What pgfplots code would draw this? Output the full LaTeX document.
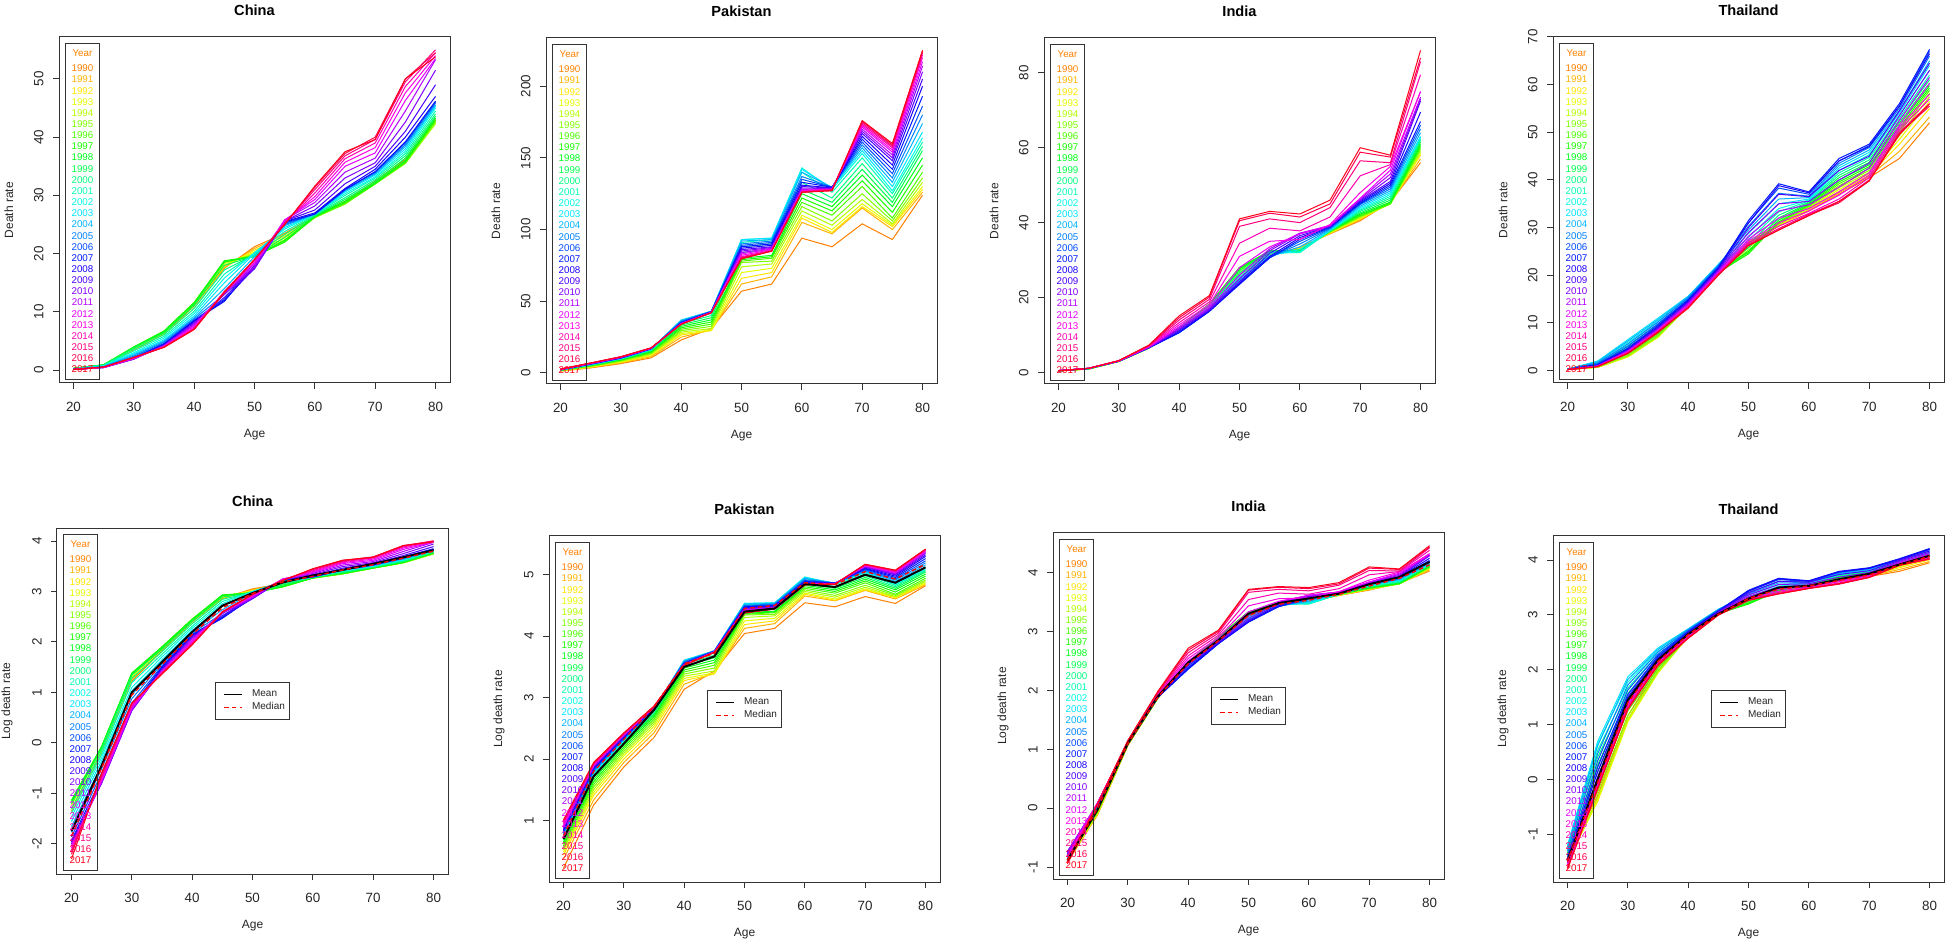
\documentclass[border=0pt]{standalone}
\usepackage{pgfplots}
\usepackage{pgfplotstable}
\pgfplotsset{compat=1.18}
\usepackage{fontspec}
\setmainfont{Liberation Sans}

\definecolor{c1990}{rgb}{1,0.5,0}
\definecolor{c1991}{rgb}{1,0.7,0}
\definecolor{c1992}{rgb}{1,0.9,0}
\definecolor{c1993}{rgb}{0.9,1,0}
\definecolor{c1994}{rgb}{0.7,1,0}
\definecolor{c1995}{rgb}{0.5,1,0}
\definecolor{c1996}{rgb}{0.3,1,0}
\definecolor{c1997}{rgb}{0.1,1,0}
\definecolor{c1998}{rgb}{0,1,0.1}
\definecolor{c1999}{rgb}{0,1,0.3}
\definecolor{c2000}{rgb}{0,1,0.5}
\definecolor{c2001}{rgb}{0,1,0.7}
\definecolor{c2002}{rgb}{0,1,0.9}
\definecolor{c2003}{rgb}{0,0.9,1}
\definecolor{c2004}{rgb}{0,0.7,1}
\definecolor{c2005}{rgb}{0,0.5,1}
\definecolor{c2006}{rgb}{0,0.3,1}
\definecolor{c2007}{rgb}{0,0.1,1}
\definecolor{c2008}{rgb}{0.1,0,1}
\definecolor{c2009}{rgb}{0.3,0,1}
\definecolor{c2010}{rgb}{0.5,0,1}
\definecolor{c2011}{rgb}{0.7,0,1}
\definecolor{c2012}{rgb}{0.9,0,1}
\definecolor{c2013}{rgb}{1,0,0.9}
\definecolor{c2014}{rgb}{1,0,0.7}
\definecolor{c2015}{rgb}{1,0,0.5}
\definecolor{c2016}{rgb}{1,0,0.3}
\definecolor{c2017}{rgb}{1,0,0.1}

% Death rate by age (rows) and year (columns)
\pgfplotstableread{
age y1990 y1991 y1992 y1993 y1994 y1995 y1996 y1997 y1998 y1999 y2000 y2001 y2002 y2003 y2004 y2005 y2006 y2007 y2008 y2009 y2010 y2011 y2012 y2013 y2014 y2015 y2016 y2017
20 0.25 0.26 0.27 0.29 0.30 0.31 0.32 0.32 0.31 0.30 0.27 0.25 0.23 0.21 0.19 0.17 0.155 0.145 0.14 0.14 0.135 0.13 0.13 0.125 0.12 0.115 0.11 0.10
25 0.80 0.82 0.85 0.88 0.90 0.92 0.93 0.93 0.92 0.90 0.85 0.80 0.75 0.70 0.65 0.60 0.55 0.50 0.46 0.45 0.45 0.46 0.47 0.48 0.50 0.52 0.54 0.55
30 3.4 3.5 3.6 3.7 3.8 3.9 3.95 4.0 3.95 3.85 3.6 3.3 3.0 2.8 2.6 2.4 2.2 2.05 1.95 1.9 1.9 1.95 2.0 2.05 2.1 2.15 2.2 2.2
35 6.2 6.3 6.4 6.5 6.6 6.7 6.7 6.7 6.6 6.4 6.1 5.8 5.5 5.2 5.0 4.8 4.6 4.5 4.4 4.3 4.2 4.2 4.1 4.05 4.0 4.0 3.95 3.9
40 11.0 11.1 11.2 11.4 11.5 11.6 11.6 11.6 11.4 11.1 10.6 10.1 9.7 9.3 9.0 8.8 8.6 8.5 8.4 8.2 8.0 7.8 7.6 7.4 7.2 7.1 7.0 7.0
45 17.5 17.6 17.8 18.0 18.3 18.5 18.7 18.8 18.6 18.0 17.2 16.5 15.8 15.0 14.0 13.0 12.2 11.8 12.0 12.5 13.0 13.2 13.3 13.4 13.5 13.5 13.4 13.3
50 21.2 20.9 20.6 20.3 20.0 19.8 19.6 19.5 19.5 19.6 19.8 20.0 20.2 20.0 19.5 19.0 18.5 18.0 17.6 17.4 17.5 17.8 18.2 18.5 18.8 19.0 19.0 19.0
55 23.5 23.3 23.0 22.7 22.4 22.2 22.0 22.0 22.3 22.8 23.3 23.8 24.2 24.5 24.8 25.0 25.2 25.4 25.5 25.6 25.6 25.8 25.8 25.5 25.3 25.2 25.0 25.0
60 26.5 26.4 26.3 26.2 26.2 26.2 26.3 26.3 26.4 26.5 26.6 26.7 26.8 26.8 26.8 26.8 26.8 26.8 27.0 27.5 28.2 28.8 29.3 29.8 30.4 31.0 31.4 31.6
65 29.0 28.9 28.8 28.7 28.6 28.5 28.6 28.8 29.0 29.3 29.6 30.0 30.3 30.6 30.8 31.0 31.0 31.0 31.2 32.0 33.0 34.0 35.0 35.7 36.3 36.8 37.2 37.5
70 32.5 32.3 32.2 32.0 32.0 32.0 32.0 32.0 32.2 32.4 32.7 33.0 33.2 33.5 33.7 33.9 34.0 34.1 34.5 35.0 35.6 36.4 37.3 38.2 39.0 39.6 40.0 39.6
75 36.2 36.0 35.8 35.6 35.5 35.5 35.6 35.8 36.0 36.4 36.8 37.2 37.6 38.0 38.4 38.7 39.0 39.2 40.0 41.0 42.6 44.5 46.3 47.6 48.7 49.5 50.0 50.0
80 43.0 43.0 42.6 42.5 42.3 42.5 42.8 43.0 43.3 43.6 44.0 44.5 45.0 45.3 45.5 45.8 46.0 46.2 47.0 49.0 51.5 53.3 53.5 54.0 54.5 55.0 54.5 53.8
}\chinatab

\pgfplotstableread{
age y1990 y1991 y1992 y1993 y1994 y1995 y1996 y1997 y1998 y1999 y2000 y2001 y2002 y2003 y2004 y2005 y2006 y2007 y2008 y2009 y2010 y2011 y2012 y2013 y2014 y2015 y2016 y2017
20 1.25 1.45 1.55 1.62 1.68 1.74 1.80 1.86 1.92 1.98 2.02 2.06 2.10 2.14 2.18 2.22 2.26 2.30 2.34 2.38 2.42 2.46 2.50 2.55 2.60 2.65 2.70 2.75
25 3.5 3.8 4.1 4.3 4.5 4.7 4.9 5.1 5.3 5.5 5.6 5.7 5.8 5.9 6.0 6.1 6.2 6.3 6.4 6.5 6.55 6.6 6.65 6.7 6.8 6.85 6.9 7.0
30 6.5 7.0 7.4 7.8 8.1 8.4 8.7 9.0 9.3 9.5 9.7 9.9 10.0 10.1 10.2 10.3 10.4 10.5 10.6 10.7 10.8 10.9 11.0 11.0 11.1 11.2 11.3 11.3
35 10.5 11.3 12.0 12.6 13.1 13.6 14.1 14.6 15.0 15.4 15.8 16.1 16.3 16.5 16.6 16.7 16.8 16.9 17.0 17.0 17.1 17.2 17.2 17.3 17.3 17.4 17.4 17.5
40 23.0 25.0 26.5 27.5 28.5 29.5 30.5 31.5 32.5 33.5 34.5 35.5 36.5 37.0 36.5 36.0 35.5 35.0 34.8 34.6 34.5 34.4 34.3 34.2 34.1 34.0 34.0 34.0
45 31.0 30.0 29.5 30.0 31.0 32.5 34.0 35.5 37.0 38.5 40.0 41.5 42.5 43.0 43.0 43.0 42.8 42.6 42.5 42.4 42.3 42.3 42.2 42.2 42.1 42.1 42.0 42.0
50 57 62 66 70 74 77 78 79 80 84 88 91 93 93 92 90 89 88 87 86 85 84 83 82 81 80.5 80 79.5
55 62 67 70 73 76 78 80 81 82 86 90 93 94 94 93 92 91 90 89 88 87.5 87 86.5 86 85.5 85 85 85
60 94 105 108 110 113 116 119 122 125 128 133 140 143 142 140 137 135 133 131 130 129 128 127.5 127 126.5 126 126 126
65 88 97 98 100 103 106 110 113 116 119 122 126 128 129 129.5 129.5 129.5 129.5 129 129 128.5 128.5 128 128 128 127.5 127.5 127
70 104 115 116 118 121 125 130 134 138 142 146 150 153 155 157 159 161 163 165 167 168.5 170 171.5 172.5 173.5 174.5 175.5 176
75 93 100 102 103 104 106 108 112 116 119 122 125 127 130 133 136 139 142 145 148 150 152 154 155.5 157 158 159 160
80 124 126 128 130 133 136 140 145 150 155 158 161 164 168 174 180 186 193 200 205 210 214 217 220 222 223.5 224.5 225
}\pakistantab

\pgfplotstableread{
age y1990 y1991 y1992 y1993 y1994 y1995 y1996 y1997 y1998 y1999 y2000 y2001 y2002 y2003 y2004 y2005 y2006 y2007 y2008 y2009 y2010 y2011 y2012 y2013 y2014 y2015 y2016 y2017
20 0.40 0.40 0.41 0.41 0.41 0.42 0.42 0.42 0.42 0.42 0.42 0.43 0.43 0.43 0.44 0.44 0.45 0.46 0.47 0.48 0.48 0.47 0.45 0.44 0.42 0.41 0.40 0.39
25 0.90 0.90 0.91 0.92 0.93 0.94 0.95 0.96 0.97 0.98 0.99 1.00 1.01 1.02 1.03 1.04 1.05 1.06 1.07 1.08 1.09 1.10 1.10 1.10 1.10 1.09 1.08 1.07
30 2.90 2.90 2.92 2.93 2.94 2.95 2.96 2.97 2.98 2.99 3.00 3.00 3.00 3.00 3.00 3.00 3.00 3.00 3.00 3.00 3.02 3.04 3.06 3.08 3.10 3.12 3.14 3.16
35 6.5 6.5 6.5 6.5 6.5 6.5 6.5 6.55 6.6 6.6 6.6 6.6 6.6 6.6 6.6 6.6 6.6 6.6 6.6 6.65 6.7 6.75 6.8 6.9 7.0 7.1 7.2 7.3
40 11.5 11.6 11.7 11.8 11.9 12.0 12.0 12.0 11.9 11.8 11.6 11.4 11.2 11.0 10.8 10.7 10.6 10.6 10.8 11.2 11.5 11.8 12.2 12.7 13.3 14.0 14.6 15.1
45 17.0 17.2 17.4 17.6 17.8 18.0 18.2 18.3 18.2 18.0 17.8 17.5 17.2 16.9 16.6 16.4 16.3 16.3 16.4 16.6 16.9 17.2 17.6 18.1 18.8 19.5 20.1 20.5
50 25.5 26.0 26.5 27.0 27.5 27.8 28.0 28.0 27.7 27.2 26.6 26.0 25.5 25.0 24.6 24.2 23.8 23.5 23.7 24.2 25.0 26.0 28.0 31.0 34.5 39.0 40.5 41.0
55 31.0 31.2 31.4 31.6 31.8 32.0 32.2 32.4 32.5 32.5 32.3 32.0 31.6 31.2 30.9 30.7 30.6 30.6 31.0 31.8 32.5 33.0 33.5 35.0 38.5 41.0 42.5 43.0
60 33.5 33.3 33.1 33.0 32.9 32.8 32.6 32.5 32.3 32.2 32.1 32.0 32.2 32.8 33.5 34.3 35.0 35.5 36.0 36.5 37.0 37.2 37.0 35.5 37.8 40.0 41.5 42.3
65 37.0 37.1 37.2 37.3 37.4 37.5 37.6 37.7 37.8 37.8 37.8 37.8 37.9 38.0 38.2 38.4 38.6 38.8 39.0 39.0 39.0 39.2 39.3 39.5 41.5 44.0 45.0 46.0
70 40.5 40.8 41.0 41.2 41.4 41.6 41.8 42.0 42.3 42.6 43.0 43.3 43.6 44.0 44.4 44.8 45.0 45.2 45.5 45.8 46.0 46.3 46.5 48.0 52.5 56.5 58.8 60.0
75 45.5 45.3 45.2 45.0 45.0 45.0 45.0 45.2 45.5 46.0 46.5 47.0 47.5 48.0 48.5 49.0 49.5 50.0 50.5 51.0 52.0 53.0 54.0 55.0 55.5 56.0 57.5 58.0
80 56.0 57.0 58.0 58.5 59.0 59.5 60.0 60.5 61.0 61.5 62.0 62.5 62.8 63.0 64.0 65.0 66.0 67.0 69.5 72.5 73.0 73.5 75.0 75.0 79.5 83.0 84.0 86.0
}\indiatab

\pgfplotstableread{
age y1990 y1991 y1992 y1993 y1994 y1995 y1996 y1997 y1998 y1999 y2000 y2001 y2002 y2003 y2004 y2005 y2006 y2007 y2008 y2009 y2010 y2011 y2012 y2013 y2014 y2015 y2016 y2017
20 0.24 0.23 0.23 0.22 0.22 0.23 0.24 0.25 0.26 0.27 0.28 0.29 0.30 0.30 0.29 0.27 0.25 0.24 0.23 0.22 0.22 0.21 0.21 0.21 0.20 0.20 0.20 0.195
25 0.75 0.70 0.67 0.68 0.72 0.80 0.90 1.00 1.15 1.30 1.50 1.70 1.90 2.00 1.85 1.60 1.40 1.25 1.15 1.05 1.00 0.95 0.92 0.90 0.88 0.86 0.85 0.84
30 3.2 3.0 2.86 2.9 3.0 3.2 3.5 3.8 4.1 4.4 4.8 5.3 5.9 6.5 6.2 5.6 5.1 4.7 4.5 4.3 4.2 4.1 4.0 3.9 3.8 3.7 3.6 3.6
35 7.8 7.3 7.0 7.0 7.1 7.3 7.6 8.0 8.4 8.8 9.3 9.8 10.4 11.0 10.7 10.2 9.8 9.5 9.2 9.0 8.8 8.6 8.5 8.4 8.3 8.2 8.1 8.0
40 14.0 13.8 13.6 13.5 13.5 13.6 13.7 13.8 14.0 14.2 14.5 14.8 15.2 15.6 15.5 15.3 15.0 14.8 14.6 14.4 14.2 14.0 13.8 13.6 13.4 13.3 13.2 13.1
45 20.5 20.5 20.4 20.3 20.3 20.4 20.5 20.6 20.8 21.0 21.3 21.6 22.0 22.3 22.2 22.0 21.8 21.6 21.4 21.2 21.0 20.8 20.6 20.4 20.3 20.2 20.1 20.0
50 27.0 26.8 26.5 26.2 25.8 25.3 24.8 24.5 25.0 25.8 26.5 27.3 28.0 28.8 29.5 30.3 31.0 31.5 31.0 30.0 29.0 28.2 27.6 27.2 26.8 26.5 26.3 26.2
55 30.5 30.4 30.3 30.4 30.6 30.8 31.0 31.2 31.6 32.0 32.6 33.3 34.0 35.0 36.0 37.2 38.3 39.2 38.8 37.0 35.0 33.5 32.0 31.0 30.3 29.8 29.5 29.5
60 33.5 33.6 33.8 34.0 34.2 34.4 34.6 34.8 35.0 35.2 35.4 35.6 35.8 36.0 36.3 36.6 37.0 37.5 37.3 36.5 35.5 34.8 34.0 33.5 33.0 32.8 32.6 32.5
65 37.0 37.3 37.6 38.0 38.4 38.8 39.2 39.6 40.0 40.5 41.0 41.5 42.0 42.5 43.0 43.5 44.0 44.5 44.0 42.0 40.0 38.5 37.5 36.8 36.0 35.5 35.2 35.5
70 40.5 40.8 41.0 41.3 41.6 42.0 42.4 42.8 43.2 43.7 44.2 44.7 45.3 45.8 46.3 46.8 47.2 47.5 47.0 45.0 43.5 42.5 41.5 41.0 40.5 40.0 39.8 39.8
75 44.5 46.0 47.5 48.5 49.3 50.0 50.5 51.0 51.5 52.0 52.5 53.0 53.5 54.0 54.5 55.0 55.5 56.0 55.5 54.5 53.5 52.5 51.5 51.0 50.5 50.0 49.8 49.5
80 52.0 53.2 55.0 56.5 57.5 58.2 58.8 59.3 59.8 60.3 61.0 62.0 63.0 64.0 65.0 66.0 67.0 67.4 66.5 64.5 63.0 61.5 60.3 58.0 57.0 56.0 55.5 56.0
}\thailandtab

% Mean and median of the log death rate
\pgfplotstableread{
age mean median
20 -1.75 -1.85
25 -0.45 -0.50
30 1.00 0.95
35 1.60 1.55
40 2.20 2.15
45 2.72 2.68
50 2.97 2.96
55 3.18 3.19
60 3.32 3.30
65 3.43 3.43
70 3.55 3.53
75 3.68 3.66
80 3.82 3.80
}\chinastat
\pgfplotstableread{
age mean median
20 0.70 0.75
25 1.72 1.80
30 2.25 2.32
35 2.80 2.85
40 3.50 3.55
45 3.67 3.72
50 4.40 4.45
55 4.45 4.50
60 4.85 4.87
65 4.80 4.84
70 5.00 5.05
75 4.87 4.93
80 5.12 5.17
}\pakistanstat
\pgfplotstableread{
age mean median
20 -0.88 -0.88
25 -0.02 0.00
30 1.10 1.10
35 1.90 1.89
40 2.47 2.45
45 2.85 2.84
50 3.30 3.27
55 3.48 3.46
60 3.56 3.53
65 3.64 3.63
70 3.80 3.77
75 3.92 3.90
80 4.18 4.13
}\indiastat
\pgfplotstableread{
age mean median
20 -1.48 -1.50
25 0.00 -0.05
30 1.45 1.40
35 2.18 2.15
40 2.65 2.64
45 3.02 3.01
50 3.30 3.30
55 3.50 3.47
60 3.53 3.53
65 3.65 3.63
70 3.75 3.73
75 3.92 3.91
80 4.08 4.07
}\thailandstat

\newcommand{\yearlines}[1]{%
  \pgfplotsinvokeforeach{1990,...,2017}{%
    \addplot[draw=c##1, line width=0.5pt, forget plot] table[x=age,y=y##1]{#1};}}
\newcommand{\logyearlines}[1]{%
  \pgfplotsinvokeforeach{1990,...,2017}{%
    \addplot[draw=c##1, line width=0.5pt, forget plot] table[x=age,y expr={ln(\thisrow{y##1})}]{#1};}}
\newcommand{\statlines}[1]{%
  \addplot[black, line width=1pt] table[x=age,y=mean]{#1};
  \addlegendentry{Mean}
  \addplot[red, line width=0.7pt, dash pattern=on 2.2pt off 1.6pt] table[x=age,y=median]{#1};
  \addlegendentry{Median}}
\newcommand{\yearlegend}{%
  \node[draw=black!80, line width=0.5pt, anchor=north west, xshift=3pt, yshift=-3pt,
    minimum width=17pt, minimum height=168pt, inner sep=0pt, align=center,
    font=\fontsize{4.9}{5.575}\selectfont] at (rel axis cs:0,1) {%
    \textcolor{c1990}{Year}\\[1.9pt]
    \textcolor{c1990}{1990}\\ \textcolor{c1991}{1991}\\ \textcolor{c1992}{1992}\\
    \textcolor{c1993}{1993}\\ \textcolor{c1994}{1994}\\ \textcolor{c1995}{1995}\\
    \textcolor{c1996}{1996}\\ \textcolor{c1997}{1997}\\ \textcolor{c1998}{1998}\\
    \textcolor{c1999}{1999}\\ \textcolor{c2000}{2000}\\ \textcolor{c2001}{2001}\\
    \textcolor{c2002}{2002}\\ \textcolor{c2003}{2003}\\ \textcolor{c2004}{2004}\\
    \textcolor{c2005}{2005}\\ \textcolor{c2006}{2006}\\ \textcolor{c2007}{2007}\\
    \textcolor{c2008}{2008}\\ \textcolor{c2009}{2009}\\ \textcolor{c2010}{2010}\\
    \textcolor{c2011}{2011}\\ \textcolor{c2012}{2012}\\ \textcolor{c2013}{2013}\\
    \textcolor{c2014}{2014}\\ \textcolor{c2015}{2015}\\ \textcolor{c2016}{2016}\\
    \textcolor{c2017}{2017}};}

\pgfplotsset{
  every axis title/.style={at={(0.5,1)}, anchor=base, yshift=10.8pt,
    font=\bfseries\fontsize{7.3}{8}\selectfont},
  panel/.style={
    scale only axis, width=195.5pt, height=173pt, anchor=south west,
    xmin=17.6, xmax=82.4, xtick={20,30,...,80},
    tick pos=left, tick align=outside, major tick length=3pt,
    axis line style={black!80, line width=0.5pt},
    every tick/.style={black!80, line width=0.5pt},
    tick label style={font=\fontsize{6.7}{7}\selectfont, text=black!85},
    /pgf/number format/assume math mode=true,
    xticklabel style={anchor=north, inner sep=0pt, yshift=-6.5pt},
    yticklabel style={xshift=-4.5pt, rotate=90, anchor=south, inner sep=0pt},
    label style={font=\fontsize{6}{7}\selectfont, text=black!85},
    xlabel={Age},
    xlabel style={at={(axis description cs:0.5,-0.150)}, anchor=center},
    ylabel style={at={(axis description cs:-0.128,0.5)}, anchor=center},
    legend cell align=left,
    legend style={at={(0.5,0.5)}, anchor=center, draw=black!80, line width=0.5pt,
      fill=white, font=\fontsize{5}{5.6}\selectfont, text=black!85,
      inner xsep=1.8pt, inner ysep=3pt, row sep=0.3pt, nodes={inner sep=0.6pt}},
    legend image code/.code={\draw[##1, line width=0.5pt] (2.2pt,0pt) -- (11.2pt,0pt);
      \path (0pt,0pt) (15pt,0pt);},
  }
}

\begin{document}
\begin{tikzpicture}
\useasboundingbox (0,0) rectangle (973pt,471pt);
% ---------- top row ----------
\begin{axis}[panel, at={(29.5pt,279.5pt)}, title={China}, ylabel={Death rate},
  ymin=-2.2, ymax=57.2, ytick={0,10,...,50}]
\yearlines{\chinatab}
\yearlegend
\end{axis}
\begin{axis}[panel, at={(273pt,279pt)}, title={Pakistan}, ylabel={Death rate},
  ymin=-7.7, ymax=233.6, ytick={0,50,...,200}]
\yearlines{\pakistantab}
\yearlegend
\end{axis}
\begin{axis}[panel, at={(522pt,279pt)}, title={India}, ylabel={Death rate},
  ymin=-3.1, ymax=89.3, ytick={0,20,...,80}]
\yearlines{\indiatab}
\yearlegend
\end{axis}
\begin{axis}[panel, at={(776.5pt,279.5pt)}, title={Thailand}, ylabel={Death rate},
  ymin=-2.6, ymax=70.0, ytick={0,10,...,70}]
\yearlines{\thailandtab}
\yearlegend
\end{axis}
% ---------- bottom row ----------
\begin{axis}[panel, at={(28.5pt,34pt)}, title={China}, ylabel={Log death rate},
  ymin=-2.6, ymax=4.26, ytick={-2,-1,...,4}]
\logyearlines{\chinatab}
\statlines{\chinastat}
\yearlegend
\end{axis}
\begin{axis}[panel, at={(274.5pt,30pt)}, title={Pakistan}, ylabel={Log death rate},
  ymin=0.0, ymax=5.63, ytick={1,2,...,5}]
\logyearlines{\pakistantab}
\statlines{\pakistanstat}
\yearlegend
\end{axis}
\begin{axis}[panel, at={(526.5pt,31.5pt)}, title={India}, ylabel={Log death rate},
  ymin=-1.2, ymax=4.67, ytick={-1,0,...,4}]
\logyearlines{\indiatab}
\statlines{\indiastat}
\yearlegend
\end{axis}
\begin{axis}[panel, at={(776.5pt,30pt)}, title={Thailand}, ylabel={Log death rate},
  ymin=-1.87, ymax=4.44, ytick={-1,0,...,4}]
\logyearlines{\thailandtab}
\statlines{\thailandstat}
\yearlegend
\end{axis}
\end{tikzpicture}
\end{document}
